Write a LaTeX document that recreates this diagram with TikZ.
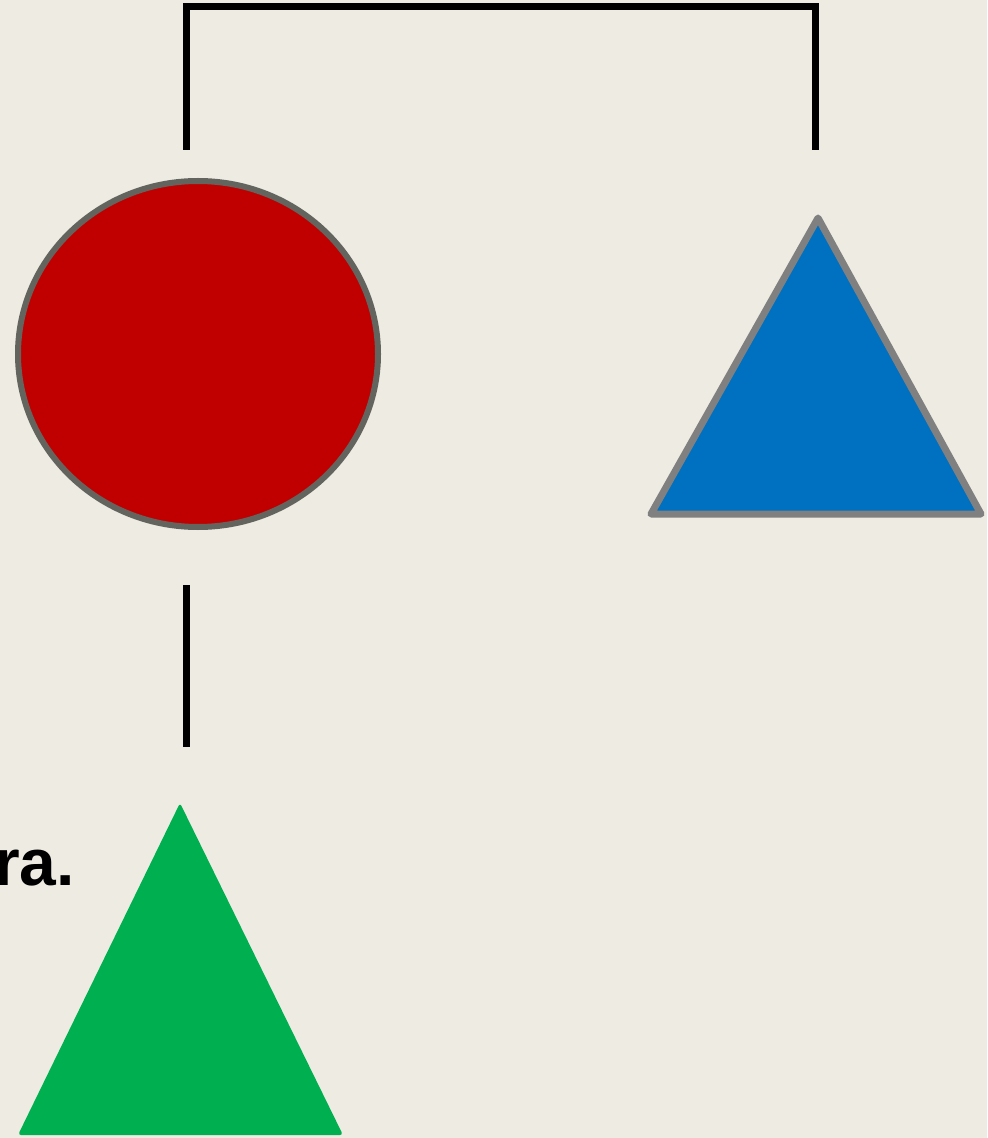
\documentclass[tikz,border=0pt]{standalone}
\usepackage{fontspec}
\setmainfont{Liberation Sans}
\usetikzlibrary{shapes.geometric,positioning,calc}
\definecolor{fondo}{RGB}{238,235,227}
\definecolor{rojo}{RGB}{192,0,0}
\definecolor{azul}{RGB}{0,112,192}
\definecolor{verde}{RGB}{0,176,80}
\definecolor{borde}{RGB}{100,100,94}
\definecolor{bordeazul}{RGB}{128,128,128}

\begin{document}
\begin{tikzpicture}[
                shapebox/.style={line join=round},
                circulo/.style={
                        ellipse,
                        draw=borde,
                        fill=rojo,
                        line width=0.12cm,
                        minimum width=7.2cm,
                        minimum height=6.92cm,
                        inner sep=0pt
                    },
                conector/.style={draw=black, line width=0.14cm},
                texto/.style={font=\bfseries\fontsize{37.5}{40}\selectfont, inner sep=0pt}
            ]

            % Fondo
            \fill[fondo] (0,0) rectangle (19.74,-22.76);
            \useasboundingbox (0,0) rectangle (19.74,-22.76);

            % Figuras
            \node[circulo] (rojo) at (3.96,-7.08) {};
            \filldraw[shapebox, fill=azul, draw=bordeazul, line width=0.14cm]
                (16.36,-4.36) coordinate (azulA) -- (19.62,-10.28) coordinate (azulD)
                -- (13.02,-10.28) coordinate (azulI) -- cycle;
            \fill[verde, rounded corners=0.06cm]
                (3.60,-16.06) coordinate (verdeA) -- (6.86,-22.70) -- (0.36,-22.70) -- cycle;

            % Texto
            \node[texto, anchor=base east] (ra) at (1.50,-17.70) {ra.};

            % Conectores
            \coordinate (c1) at (3.72,-3.00);
            \coordinate (c2) at (16.30,-3.00);
            \coordinate (c3) at (3.72,-11.70);
            \coordinate (c4) at (3.72,-14.94);
            \draw[conector] (c1) |- ($(c2)+(0,2.87)$) -- (c2);
            \draw[conector] (c3) -- (c4);

        \end{tikzpicture}
\end{document}
